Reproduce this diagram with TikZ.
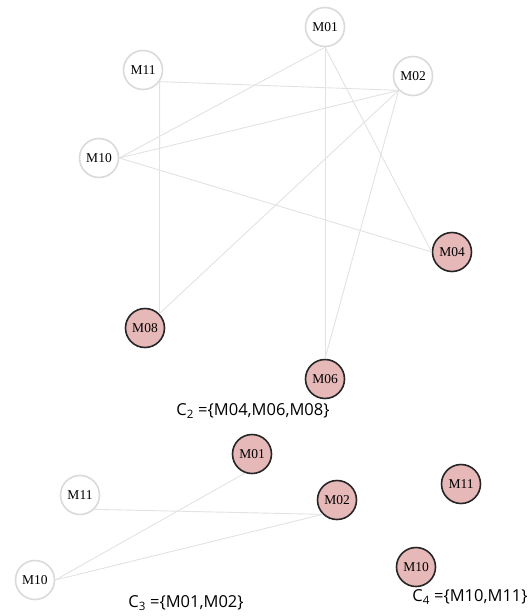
\documentclass[tikz,border=0pt]{standalone}
\usepackage{fontspec}
\setmainfont{Liberation Serif}
\newfontfamily\labfont{Open Sans}
\definecolor{edgegray}{HTML}{E2E2E2}
\definecolor{ringgray}{HTML}{DADADA}
\definecolor{pinkfill}{HTML}{E6B8B8}
\begin{document}
\begin{tikzpicture}[x=1pt,y=-1pt,
  wnode/.style={circle,draw=ringgray,line width=1.6pt,fill=white,minimum size=39pt,inner sep=0pt,font=\fontsize{13.5}{13.5}\selectfont},
  pnode/.style={circle,draw=black!85,line width=1.6pt,fill=pinkfill,minimum size=39pt,inner sep=0pt,font=\fontsize{13.5}{13.5}\selectfont},
  edge/.style={draw=edgegray,line width=0.9pt},
  lab/.style={font=\labfont\fontsize{16.5}{16.5}\selectfont,inner sep=0pt}]
\useasboundingbox (0,0) rectangle (532,616);
% top graph nodes
\node[wnode] (a01) at (325,27) {M01};
\node[wnode] (a11) at (143,70) {M11};
\node[wnode] (a02) at (413,76) {M02};
\node[wnode] (a10) at (99,158) {M10};
\node[pnode] (a04) at (452,252) {M04};
\node[pnode] (a08) at (145,328) {M08};
\node[pnode] (a06) at (325,379) {M06};
% bottom graph nodes
\node[pnode] (b01) at (252,454) {M01};
\node[wnode] (b11) at (80,495) {M11};
\node[pnode] (b02) at (337,500) {M02};
\node[pnode] (c11) at (461,484) {M11};
\node[wnode] (b10) at (35,580) {M10};
\node[pnode] (c10) at (416,567) {M10};
% edges
\path[edge] (a01.south) -- (a06.north);
\path[edge] (a01.south) -- (a04.west);
\path[edge] (a01.south) -- (a10.east);
\path[edge] (a11.-35) -- (a02.south west);
\path[edge] (a11.-35) -- (a08.north east);
\path[edge] (a10.east) -- (a02.south west);
\path[edge] (a10.east) -- (a04.west);
\path[edge] (a02.south west) -- (a08.north east);
\path[edge] (a02.south west) -- (a06.north);
\path[edge] (b11.south east) -- (b02.south west);
\path[edge] (b10.east) -- (b01.-110);
\path[edge] (b10.east) -- (b02.south west);
% labels
\node[lab] (l2) at (253,411) {C\textsubscript{2} =\{M04,M06,M08\}};
\node[lab] (l3) at (186,603) {C\textsubscript{3} =\{M01,M02\}};
\node[lab] (l4) at (470,597) {C\textsubscript{4} =\{M10,M11\}};
\end{tikzpicture}
\end{document}
